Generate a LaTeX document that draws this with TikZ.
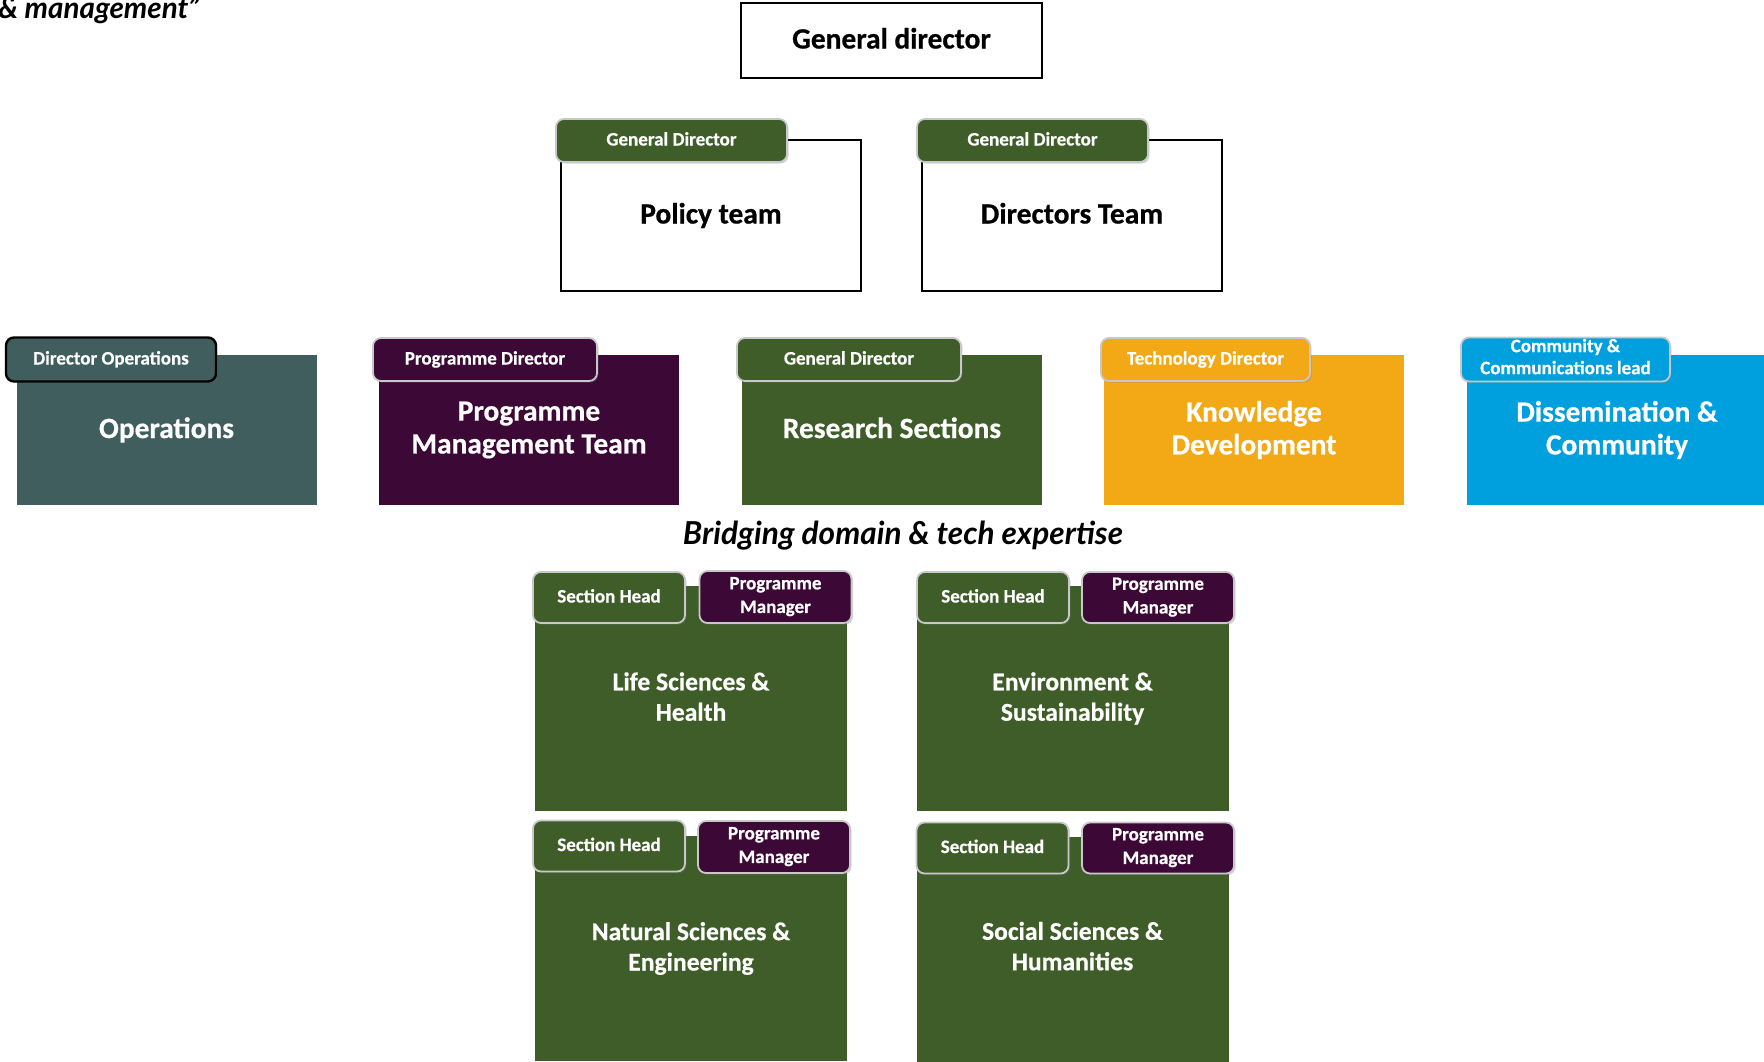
\documentclass[tikz,border=0pt]{standalone}
\usepackage{fontspec}
\setmainfont{Carlito}[BoldFeatures={FakeBold=0.6}]
\newfontfamily\latofont{Lato}
\usepackage{tikz}
\usetikzlibrary{positioning,shadows}
\definecolor{opsgrey}{RGB}{64,94,94}
\definecolor{pmtpurple}{RGB}{60,8,54}
\definecolor{resgreen}{RGB}{62,93,40}
\definecolor{kdorange}{RGB}{243,168,22}
\definecolor{dcblue}{RGB}{0,160,222}
\definecolor{tabedge}{RGB}{200,200,200}

\begin{document}
\begin{tikzpicture}[x=0.5pt,y=-0.5pt,
    oneline/.style={text height=10pt, text depth=2pt},
    team/.style={fill=#1, text=white, align=center, inner sep=0pt,
      minimum width=150pt, minimum height=75pt,
      font=\bfseries\fontsize{14.7}{16.4}\selectfont},
    frame/.style={draw=black, line width=1.1pt, fill=white, inner sep=0pt,
      minimum width=150pt, minimum height=75.5pt, oneline,
      font=\bfseries\fontsize{14.7}{16.4}\selectfont},
    section/.style={fill=resgreen, text=white, align=center, inner sep=0pt,
      minimum width=156pt, minimum height=112.5pt,
      font=\bfseries\fontsize{12.8}{15.2}\selectfont},
    lead/.style={fill=#1, draw=tabedge, line width=0.9pt, rounded corners=4pt,
      text=white, align=center, inner sep=0pt, minimum height=21.5pt,
      text height=7pt, text depth=2pt,
      font=\bfseries\fontsize{9.5}{11.8}\selectfont,
      drop shadow={opacity=0.3, shadow xshift=0.8pt, shadow yshift=-0.8pt}},
    role/.style={lead=#1, minimum width=76pt, minimum height=25.5pt},
    twoline/.style={text height=, text depth=#1}]
\useasboundingbox (0,0) rectangle (1764,1061);

\node[anchor=base west, inner sep=0pt, font=\latofont\itshape\bfseries\fontsize{14.8}{16}\selectfont]
    (quote) at (-2,18) {\& management”};

% top
\node[draw=black, line width=1.3pt, inner sep=0pt, minimum width=150.5pt, minimum height=37.5pt,
    oneline, font=\bfseries\fontsize{14.7}{16}\selectfont] (gd) at (891.5,40.5) {General director};

\node[frame] (policy) at (711,215.5) {Policy team};
\node[lead=resgreen, minimum width=115.5pt] (policy-lead) at (671.5,140.5) {General Director};
\node[frame] (directors) at (1072,215.5) {Directors Team};
\node[lead=resgreen, minimum width=115.5pt] (directors-lead) at (1032.5,140.5) {General Director};

% departments
\node[team=opsgrey, oneline] (ops) at (166.5,430) {Operations};
\node[lead=opsgrey, draw=black, line width=1.2pt, minimum width=105pt, minimum height=22pt]
    (ops-lead) at (111,359.5) {Director Operations};
\node[team=pmtpurple] (pmt) at (529,430) {Programme\\Management Team};
\node[lead=pmtpurple, minimum width=112pt] (pmt-lead) at (485,359.5) {Programme Director};
\node[team=resgreen, oneline] (research) at (892,430) {Research Sections};
\node[lead=resgreen, minimum width=112pt] (research-lead) at (849,359.5) {General Director};
\node[team=kdorange] (knowledge) at (1254,430) {Knowledge\\Development};
\node[lead=kdorange, minimum width=104.5pt] (knowledge-lead) at (1205.5,359.5) {Technology Director};
\node[team=dcblue] (dissem) at (1617,430) {Dissemination \&\\Community};
\node[lead=dcblue, minimum width=104.5pt, minimum height=22pt, twoline=3pt,
    font=\bfseries\fontsize{9.5}{11}\selectfont] (dissem-lead) at (1565.5,359.5)
    {Community \&\\Communications lead};

\node[font=\latofont\itshape\bfseries\fontsize{15.8}{18}\selectfont] (bridge) at (903,536)
    {Bridging domain \& tech expertise};

% research sections
\node[section, twoline=2pt] (life) at (691,698.5) {Life Sciences \&\\Health};
\node[role=resgreen] (life-head) at (609,597.5) {Section Head};
\node[role=pmtpurple, minimum height=26pt, twoline=2pt] (life-pm) at (775.5,597) {Programme\\Manager};

\node[section] (env) at (1072.5,698.5) {Environment \&\\Sustainability};
\node[role=resgreen] (env-head) at (993,597.5) {Section Head};
\node[role=pmtpurple, twoline=2pt] (env-pm) at (1158,597.5) {Programme\\Manager};

\node[section] (nat) at (691,948.5) {Natural Sciences \&\\Engineering};
\node[role=resgreen] (nat-head) at (609,846) {Section Head};
\node[role=pmtpurple, minimum height=26pt, twoline=2pt] (nat-pm) at (774,847) {Programme\\Manager};

\node[section, twoline=3.5pt] (soc) at (1072.5,949.5) {Social Sciences \&\\Humanities};
\node[role=resgreen] (soc-head) at (992.5,848) {Section Head};
\node[role=pmtpurple, twoline=2pt] (soc-pm) at (1158,848) {Programme\\Manager};
\end{tikzpicture}
\end{document}
